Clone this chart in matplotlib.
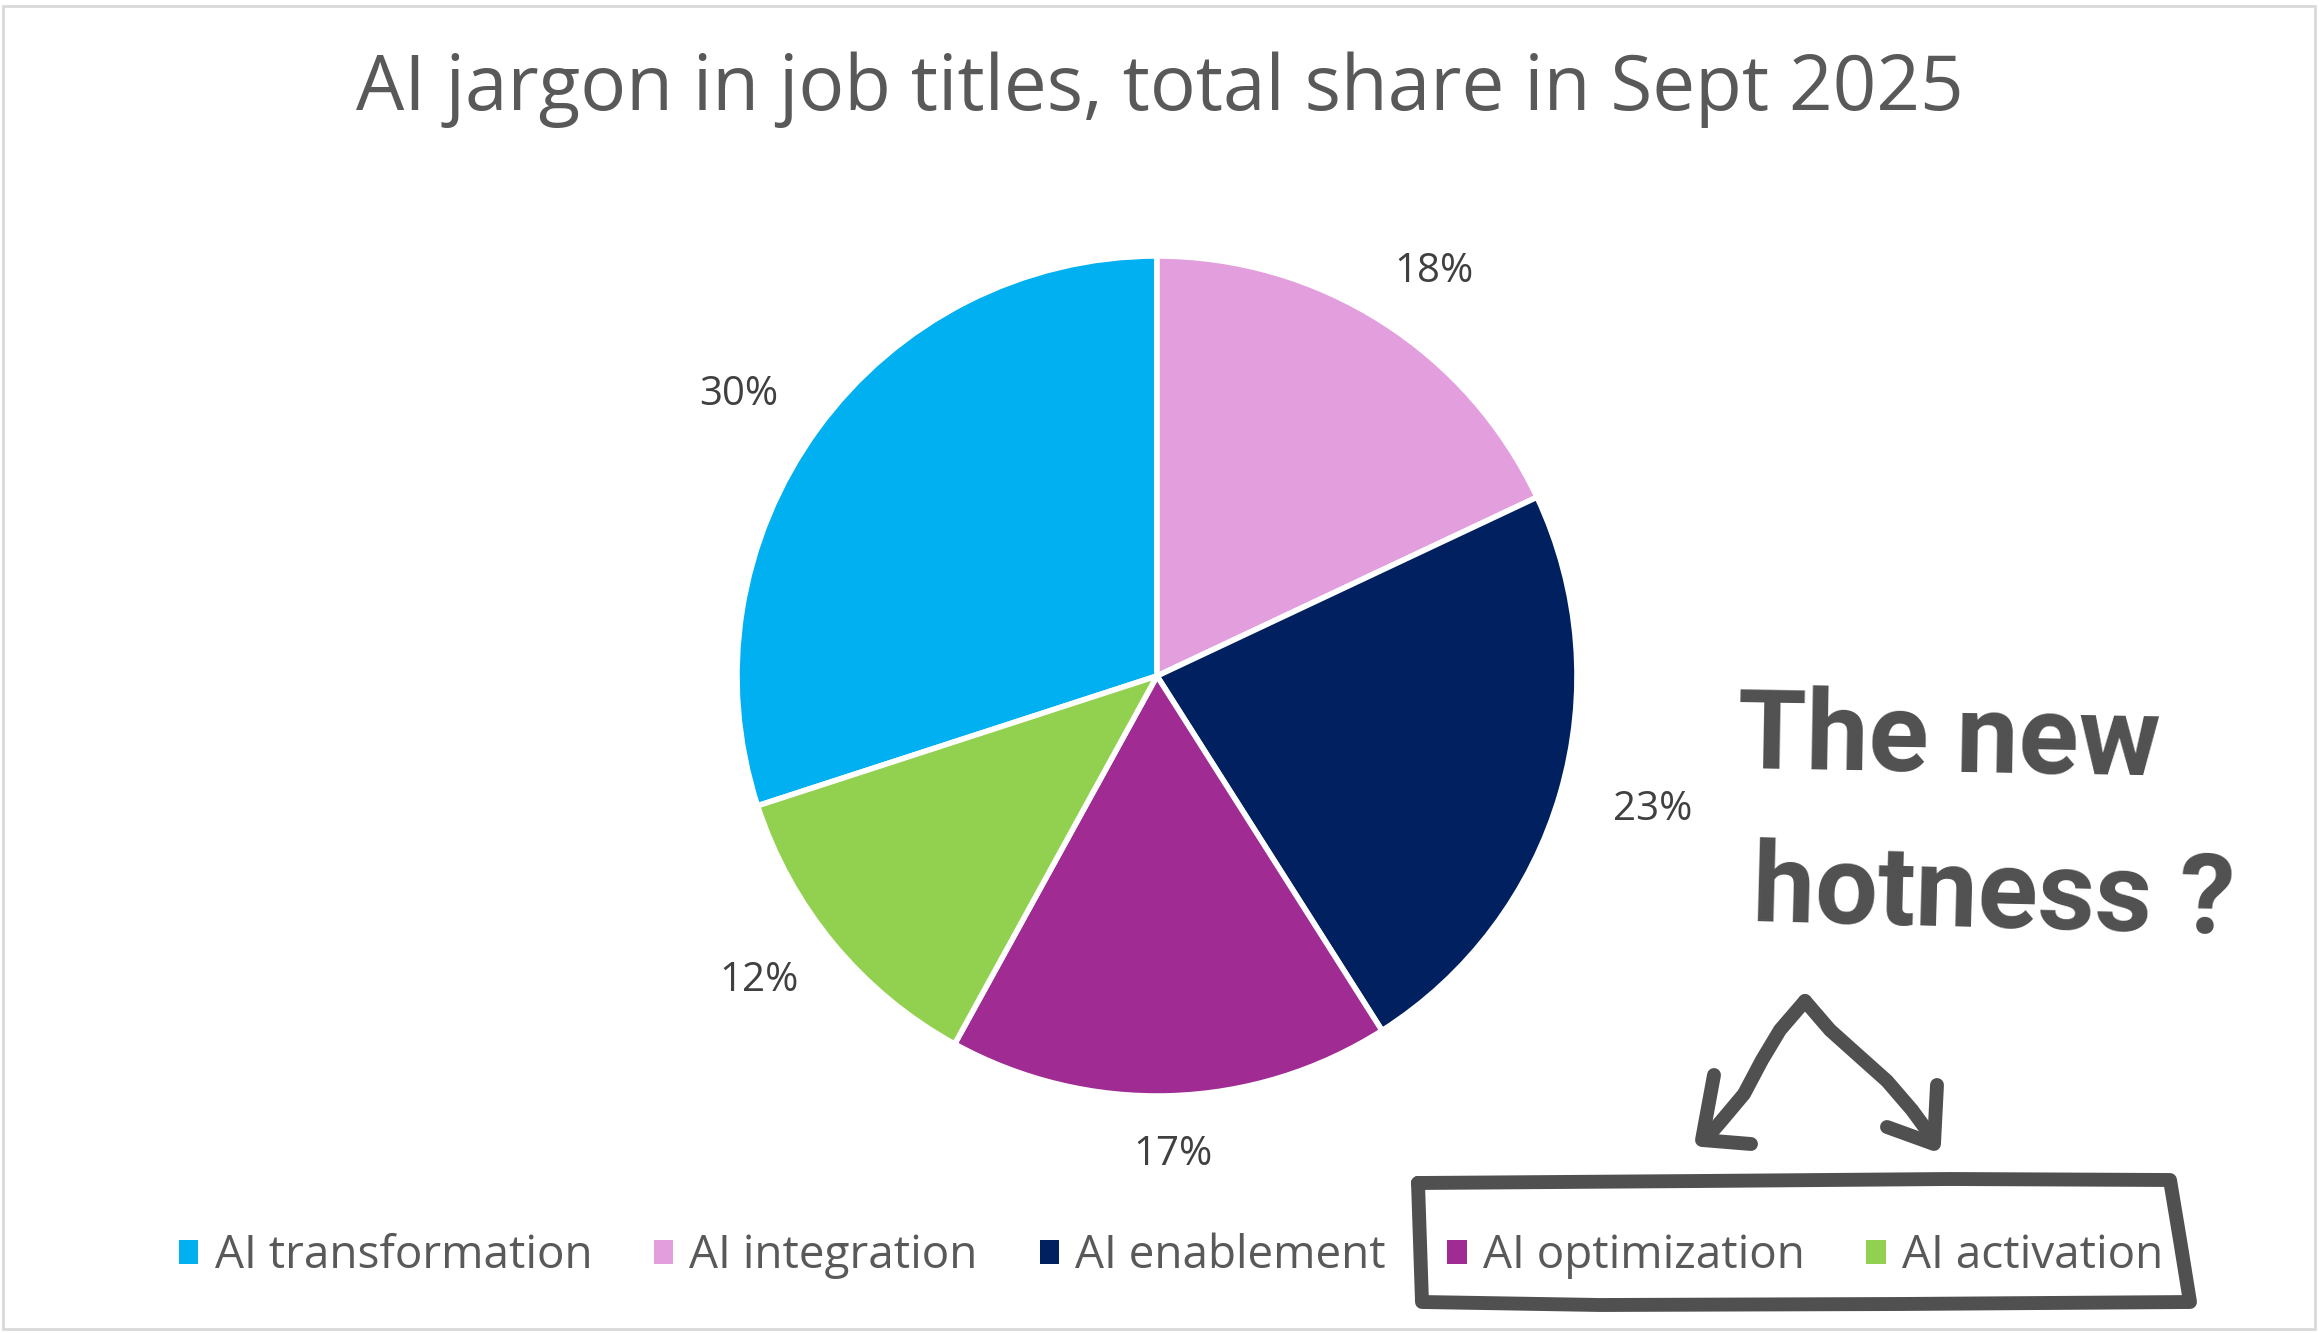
import matplotlib
matplotlib.use("Agg")
import matplotlib.pyplot as plt
from matplotlib.lines import Line2D
import numpy as np

# data
labels = ["AI transformation", "AI integration", "AI enablement", "AI optimization", "AI activation"]
shares = [30, 18, 23, 17, 12]
colors = ["#00B0F0", "#E39EDD", "#002060", "#A02B93", "#92D050"]
title = "AI jargon in job titles, total share in Sept 2025"

plt.rcParams['font.family'] = ['Open Sans', 'DejaVu Sans']

W, H = 2319, 1333
fig = plt.figure(figsize=(W / 100, H / 100), dpi=100)

# chart border
fig.add_artist(plt.Rectangle((3 / W, 4 / H), (W - 7) / W, (H - 10) / H, transform=fig.transFigure,
                             fill=False, edgecolor="#d9d9d9", linewidth=2))

fig.text(0.5, 1 - 90 / H, title, ha="center", va="center", fontsize=55, color="#595959")

# pie: centre (1157, 676) px, radius 420 px
cx, cy, r = 1157, 676, 420
ax = fig.add_axes([(cx - r) / W, (H - cy - r) / H, 2 * r / W, 2 * r / H])
wedges, texts, autotexts = ax.pie(shares, colors=colors, startangle=90 - 252, counterclock=False,
                                  autopct="%d%%", pctdistance=1.2,
                                  wedgeprops=dict(edgecolor="white", linewidth=4),
                                  textprops=dict(fontsize=29, color="#404040"))
# labels just outside the rim, like Excel's "outside end"
for w, t in zip(wedges, autotexts):
    a = np.deg2rad((w.theta1 + w.theta2) / 2)
    dx, dy = np.cos(a), np.sin(a)
    t.set_position((dx * 1.1 + dx * 0.13, dy * 1.1 + dy * 0.04))
    t.set_ha("center")
    t.set_va("center")
ax.set_xlim(-1, 1)
ax.set_ylim(-1, 1)
ax.set_aspect("equal")
ax.axis("off")

handles = [plt.Rectangle((0, 0), 1, 1, facecolor=c, edgecolor="none") for c in colors]
fig.legend(handles, labels, loc="center", bbox_to_anchor=(0.505, 1 - 1256 / H), ncol=5,
           frameon=False, fontsize=33, labelcolor="#595959",
           handlelength=0.42, handleheight=0.42, handletextpad=0.35, columnspacing=1.35)

# hand-drawn annotation
ink = "#505050"
def stroke(xs, ys, lw=10):
    fig.add_artist(Line2D([x / W for x in xs], [1 - y / H for y in ys], transform=fig.transFigure,
                          color=ink, linewidth=lw, solid_capstyle="round", solid_joinstyle="round"))

fig.text(1737 / W, 1 - 775 / H, "The new", ha="left", va="baseline", fontsize=80, fontweight="bold",
         color=ink, rotation=-1, family=["Roboto", "DejaVu Sans"])
fig.text(1751 / W, 1 - 934 / H, "hotness ?", ha="left", va="baseline", fontsize=80, fontweight="bold",
         color=ink, rotation=-1.5, family=["Roboto", "DejaVu Sans"])

# arrows
stroke([1705, 1723, 1744, 1762, 1780, 1805], [1140, 1119, 1094, 1060, 1030, 1001])
stroke([1805, 1830, 1859, 1887, 1912, 1934], [1001, 1030, 1056, 1081, 1110, 1140])
stroke([1714, 1702, 1751], [1075, 1140, 1144])
stroke([1937, 1934, 1887], [1085, 1144, 1127])

# box round the last two legend entries
stroke([1418, 1700, 1950, 2170, 2180, 2190, 1900, 1600, 1422, 1418],
       [1183, 1181, 1179, 1180, 1240, 1302, 1304, 1305, 1302, 1183])

fig.savefig("out.png", dpi=100)
